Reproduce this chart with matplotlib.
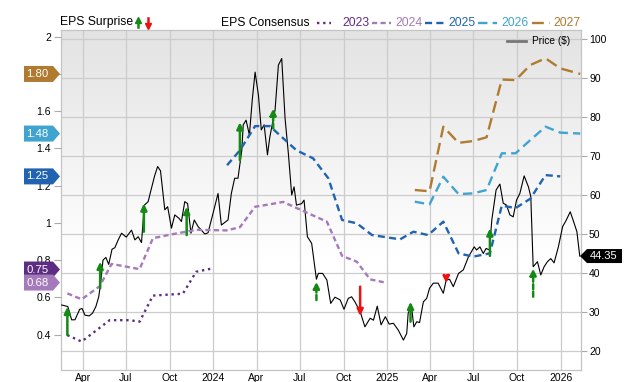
import numpy as np
import pandas as pd
import matplotlib
matplotlib.use('Agg')
import matplotlib.pyplot as plt
import matplotlib.dates as mdates
from matplotlib.patches import Polygon
from matplotlib.lines import Line2D
from matplotlib.ticker import FuncFormatter, FixedLocator
from matplotlib.transforms import blended_transform_factory

plt.rcParams['font.family'] = ['Liberation Sans', 'DejaVu Sans']

# ---- price (right axis) ----
price_dates = ['2023-02-16', '2023-03-01', '2023-03-09', '2023-03-16', '2023-03-26', '2023-03-31',
               '2023-04-06', '2023-04-15', '2023-04-22', '2023-04-29', '2023-05-05', '2023-05-09',
               '2023-05-14', '2023-05-20', '2023-05-26', '2023-06-02', '2023-06-08', '2023-06-15',
               '2023-06-22', '2023-07-02', '2023-07-13', '2023-07-20', '2023-07-27', '2023-08-03',
               '2023-08-09', '2023-08-17', '2023-08-22', '2023-08-31', '2023-09-06', '2023-09-12',
               '2023-09-21', '2023-09-27', '2023-10-05', '2023-10-12', '2023-10-21', '2023-10-26',
               '2023-11-02', '2023-11-08', '2023-11-15', '2023-11-22', '2023-11-30', '2023-12-07',
               '2023-12-14', '2023-12-21', '2023-12-28', '2024-01-04', '2024-01-11', '2024-01-18',
               '2024-02-01', '2024-02-08', '2024-02-15', '2024-02-22', '2024-03-01', '2024-03-04',
               '2024-03-10', '2024-03-17', '2024-03-23', '2024-03-29', '2024-04-05', '2024-04-11',
               '2024-04-17', '2024-04-24', '2024-04-29', '2024-05-10', '2024-05-17', '2024-05-24',
               '2024-05-31', '2024-06-07', '2024-06-14', '2024-06-19', '2024-06-24', '2024-07-05',
               '2024-07-10', '2024-07-17', '2024-07-26', '2024-08-05', '2024-08-09', '2024-08-18',
               '2024-08-27', '2024-09-04', '2024-09-13', '2024-09-24', '2024-10-02', '2024-10-11',
               '2024-10-18', '2024-10-25', '2024-11-05', '2024-11-15', '2024-11-26', '2024-12-03',
               '2024-12-11', '2024-12-19', '2024-12-28', '2025-01-05', '2025-01-14', '2025-01-24',
               '2025-02-04', '2025-02-11', '2025-02-14', '2025-02-21', '2025-02-26', '2025-03-04',
               '2025-03-10', '2025-03-18', '2025-03-25', '2025-03-31', '2025-04-08', '2025-04-18',
               '2025-04-29', '2025-05-05', '2025-05-12', '2025-05-20', '2025-05-31', '2025-06-10',
               '2025-06-21', '2025-07-03', '2025-07-08', '2025-07-15', '2025-07-22', '2025-07-28',
               '2025-08-04', '2025-08-09', '2025-08-18', '2025-08-26', '2025-09-02', '2025-09-09',
               '2025-09-16', '2025-09-23', '2025-09-30', '2025-10-07', '2025-10-16', '2025-10-25',
               '2025-10-30', '2025-11-04', '2025-11-13', '2025-11-20', '2025-11-27', '2025-12-04',
               '2025-12-11', '2025-12-18', '2025-12-27', '2026-01-05', '2026-01-12', '2026-01-21',
               '2026-01-28', '2026-02-04', '2026-02-10']
price_vals = [31.8, 31.4, 28.0, 28.0, 30.7, 30.9,
              29.2, 29.0, 29.7, 31.4, 33.9, 37.4,
              43.3, 44.0, 42.2, 46.1, 46.5, 48.5,
              50.2, 49.2, 51.0, 48.5, 49.3, 47.8,
              57.4, 58.3, 60.8, 65.1, 67.3, 66.2,
              56.2, 57.0, 51.5, 54.9, 54.0, 53.2,
              58.3, 57.8, 50.2, 53.6, 51.9, 51.0,
              50.0, 50.3, 53.6, 57.0, 60.4, 52.3,
              53.6, 60.4, 64.3, 64.3, 71.5, 78.0,
              79.2, 75.4, 84.4, 91.5, 85.6, 76.7,
              78.0, 70.3, 74.9, 81.8, 93.3, 95.0,
              79.7, 70.6, 60.0, 62.1, 57.4, 57.8,
              58.7, 49.3, 47.6, 38.4, 39.9, 39.9,
              38.2, 32.2, 33.8, 33.1, 30.7, 33.5,
              33.9, 32.6, 30.1, 26.2, 28.4, 27.9,
              31.5, 26.7, 28.8, 26.9, 27.1, 25.4,
              22.8, 24.5, 29.7, 31.4, 26.2, 27.5,
              27.3, 32.6, 33.5, 36.1, 37.4, 37.4,
              34.8, 38.2, 38.4, 36.5, 39.9, 40.8,
              44.2, 46.7, 45.9, 46.7, 45.0, 46.3,
              45.9, 53.6, 61.3, 62.8, 57.9, 57.4,
              54.9, 54.4, 58.7, 60.4, 64.9, 62.1,
              59.6, 41.6, 42.9, 39.5, 41.6, 42.9,
              43.7, 42.6, 46.7, 51.9, 53.4, 55.7,
              53.2, 50.6, 44.35]

# ---- EPS consensus (left axis) ----
eps23_dates = ['2023-02-28', '2023-03-30', '2023-05-28', '2023-07-09', '2023-07-30',
               '2023-08-27', '2023-10-29', '2023-11-26', '2023-12-28']
eps23_vals = [0.398, 0.363, 0.478, 0.478, 0.47, 0.61, 0.62, 0.738, 0.755]

eps24_dates = ['2023-02-28', '2023-03-30', '2023-05-07', '2023-06-01', '2023-07-30',
               '2023-08-27', '2023-10-08', '2023-11-26', '2024-01-29', '2024-02-26',
               '2024-03-29', '2024-04-29', '2024-05-27', '2024-07-03', '2024-08-27',
               '2024-09-28', '2024-10-29', '2024-11-26', '2024-12-28']
eps24_vals = [0.622, 0.59, 0.66, 0.78, 0.752, 0.918, 0.94, 0.963, 0.96, 0.977,
              1.087, 1.10, 1.113, 1.07, 1.007, 0.823, 0.792, 0.697, 0.68]

eps25_dates = ['2024-01-30', '2024-02-26', '2024-03-29', '2024-04-29', '2024-06-24',
               '2024-07-29', '2024-08-30', '2024-09-28', '2024-10-29', '2024-11-30',
               '2025-01-28', '2025-02-25', '2025-03-28', '2025-04-29', '2025-05-31',
               '2025-07-01', '2025-08-05', '2025-08-30', '2025-09-28', '2025-10-29',
               '2025-11-30', '2025-12-31']
eps25_vals = [1.31, 1.39, 1.52, 1.52, 1.39, 1.347, 1.24, 1.016, 0.998, 0.935,
              0.912, 0.953, 0.935, 1.007, 0.837, 0.819, 0.837, 1.093, 1.08, 1.13,
              1.257, 1.25]

eps26_dates = ['2025-02-28', '2025-03-31', '2025-04-29', '2025-05-31', '2025-07-01',
               '2025-07-29', '2025-08-30', '2025-09-28', '2025-10-29', '2025-11-30',
               '2025-12-31', '2026-02-11']
eps26_vals = [1.114, 1.10, 1.248, 1.155, 1.159, 1.177, 1.374, 1.374, 1.445, 1.517, 1.485, 1.48]

eps27_dates = eps26_dates
eps27_vals = [1.177, 1.17, 1.517, 1.43, 1.44, 1.46, 1.77, 1.767, 1.848, 1.884, 1.83, 1.80]

# ---- EPS surprises: date, consensus, actual, solid? ----
surp_dates = ['2023-02-28', '2023-05-08', '2023-08-08', '2023-11-06', '2024-02-26',
              '2024-05-06', '2024-08-05', '2024-11-05', '2025-02-19', '2025-05-05',
              '2025-08-05', '2025-11-04']
surp_est = [0.398, 0.649, 0.953, 0.935, 1.337, 1.508, 0.586, 0.658, 0.47, 0.711, 0.823, 0.604]
surp_act = [0.55, 0.792, 1.105, 1.087, 1.541, 1.615, 0.685, 0.50, 0.577, 0.676, 0.971, 0.756]
surp_solid = [True, True, True, True, True, False, False, True, True, False, True, False]

series = [('2023', eps23_dates, eps23_vals, '#5c2d82', (0, (1, 1.6)), 0.75),
          ('2024', eps24_dates, eps24_vals, '#a47abb', (0, (2.2, 1.4)), 0.68),
          ('2025', eps25_dates, eps25_vals, '#2163b0', (0, (3, 1.8)), 1.25),
          ('2026', eps26_dates, eps26_vals, '#40a3d0', (0, (4, 2.2)), 1.48),
          ('2027', eps27_dates, eps27_vals, '#b07b30', (0, (5, 2.4)), 1.80)]

W, H = 640, 382
fig = plt.figure(figsize=(W / 100, H / 100), dpi=100)
L, R, T, B = 60.7, 580.7, 30, 370
rect = [L / W, 1 - B / H, (R - L) / W, (B - T) / H]

# background gradient on its own axes (gray at top, white lower down)
bg = fig.add_axes(rect, zorder=-1)
f = np.linspace(0, 1, 200)
g = np.where(f < 0.33, 1.0, 1.0 - (f - 0.33) / 0.67 * 0.11)
col = np.repeat(g[:, None], 2, axis=1)
grad = np.dstack([col, col, col])
bg.imshow(grad, extent=[0, 1, 0, 1], aspect='auto', origin='lower')
bg.set_axis_off()

ax = fig.add_axes(rect)
ax.patch.set_visible(False)
xmin, xmax = pd.Timestamp('2023-02-14'), pd.Timestamp('2026-02-12')
ax.set_xlim(xmin, xmax)
ax.set_ylim(15.13, 102.31)
ax.set_yticks([20, 30, 40, 50, 60, 70, 80, 90, 100])
ax.xaxis.set_major_locator(mdates.MonthLocator(bymonth=[1, 4, 7, 10]))
ax.xaxis.set_major_formatter(FuncFormatter(
    lambda v, p: mdates.num2date(v).strftime('%Y') if mdates.num2date(v).month == 1
    else mdates.num2date(v).strftime('%b')))
ax.tick_params(axis='x', length=0, labelsize=7.5, pad=2.5)
ax.grid(True, color='#cccccc', lw=0.9)
for s in ax.spines.values():
    s.set_color('#c4c4c4')
    s.set_linewidth(0.9)

ax.plot(pd.to_datetime(price_dates), price_vals, color='black', lw=0.8, zorder=3)

# EPS axis
ax_e = ax.twinx()
ax_e.set_ylim(0.2105, 2.036)
ax_e.yaxis.tick_left()
ax_e.yaxis.set_major_locator(FixedLocator([0.4, 0.6, 0.8, 1.0, 1.2, 1.4, 1.6, 1.8, 2.0]))
ax_e.yaxis.set_major_formatter(FuncFormatter(lambda v, p: '%g' % round(v, 1)))
ax_e.tick_params(axis='y', length=5, width=0.8, color='#aaaaaa', labelsize=7.5, pad=2)
for s in ax_e.spines.values():
    s.set_visible(False)

# price ticks go right (after twinx, which moves them left)
ax.yaxis.tick_right()
ax.yaxis.set_label_position('right')
ax.tick_params(axis='y', length=4.5, width=0.8, color='#aaaaaa', labelsize=7.5, pad=1.5)

for name, d, v, c, ls, tag in series:
    ax_e.plot(pd.to_datetime(d), v, color=c, ls=ls, lw=1.7, zorder=4)

for d, e, a, solid in zip(pd.to_datetime(surp_dates), surp_est, surp_act, surp_solid):
    c = '#138a13' if a > e else '#ee1111'
    ax_e.annotate('', xy=(d, a), xytext=(d, e),
                  arrowprops=dict(arrowstyle='-|>,head_width=0.18,head_length=0.38',
                                  color=c, lw=1.8, ls='-' if solid else (0, (2, 1)),
                                  shrinkA=0, shrinkB=0), zorder=6)

# left value tags
tr = blended_transform_factory(fig.transFigure, ax_e.transData)
hh = 8 / 186.25
for name, d, v, c, ls, tag in series:
    pts = [(24 / W, tag - hh), (53 / W, tag - hh), (60 / W, tag), (53 / W, tag + hh), (24 / W, tag + hh)]
    ax_e.add_patch(Polygon(pts, closed=True, transform=tr, facecolor=c, edgecolor='none',
                           clip_on=False, zorder=7))
    ax_e.text(37.5 / W, tag, '%.2f' % tag, transform=tr, color='white', fontsize=8.2,
              ha='center', va='center', clip_on=False, zorder=8)

# right price tag
last = price_vals[-1]
trp = blended_transform_factory(fig.transFigure, ax.transData)
ph = 7 / 3.9
pts = [(580 / W, last), (587 / W, last - ph), (622 / W, last - ph), (622 / W, last + ph), (587 / W, last + ph)]
ax_e.add_patch(Polygon(pts, closed=True, transform=trp, facecolor='black', edgecolor='none',
                       clip_on=False, zorder=7))
ax_e.text(604 / W, last, '%.2f' % last, transform=trp, color='white', fontsize=8,
          ha='center', va='center', clip_on=False, zorder=8)

# price legend inside plot
fig.add_artist(Line2D([507 / W, 526 / W], [1 - 41 / H, 1 - 41 / H], color='#777777', lw=2))
fig.text(532 / W, 1 - 41 / H, 'Price ($)', fontsize=7.3, va='center', ha='left')

# top legend
ty = 1 - 22.5 / H
fig.text(60 / W, ty, 'EPS Surprise', fontsize=8.7, va='center', ha='left')
fig.add_artist(Line2D([138 / W, 138 / W], [1 - 27 / H, 1 - 20 / H], color='#138a13', lw=1.8))
fig.add_artist(Line2D([138 / W], [1 - 19.5 / H], marker='^', color='#138a13', ms=5))
fig.add_artist(Line2D([148 / W, 148 / W], [1 - 18 / H, 1 - 25 / H], color='#ee1111', lw=1.8))
fig.add_artist(Line2D([148 / W], [1 - 25.5 / H], marker='v', color='#ee1111', ms=5))
fig.text(221 / W, ty, 'EPS Consensus', fontsize=8.7, va='center', ha='left')
leg_x = [(317, 331, 342), (372, 391, 395), (425, 445, 448), (478, 497, 501), (532, 550, 553)]
for (x0, x1, xt), (name, d, v, c, ls, tag) in zip(leg_x, series):
    fig.add_artist(Line2D([x0 / W, x1 / W], [ty, ty], color=c, ls=ls, lw=1.7))
    fig.text(xt / W, ty, name, color=c, fontsize=8.7, va='center', ha='left')

fig.savefig('out.png', dpi=100)
